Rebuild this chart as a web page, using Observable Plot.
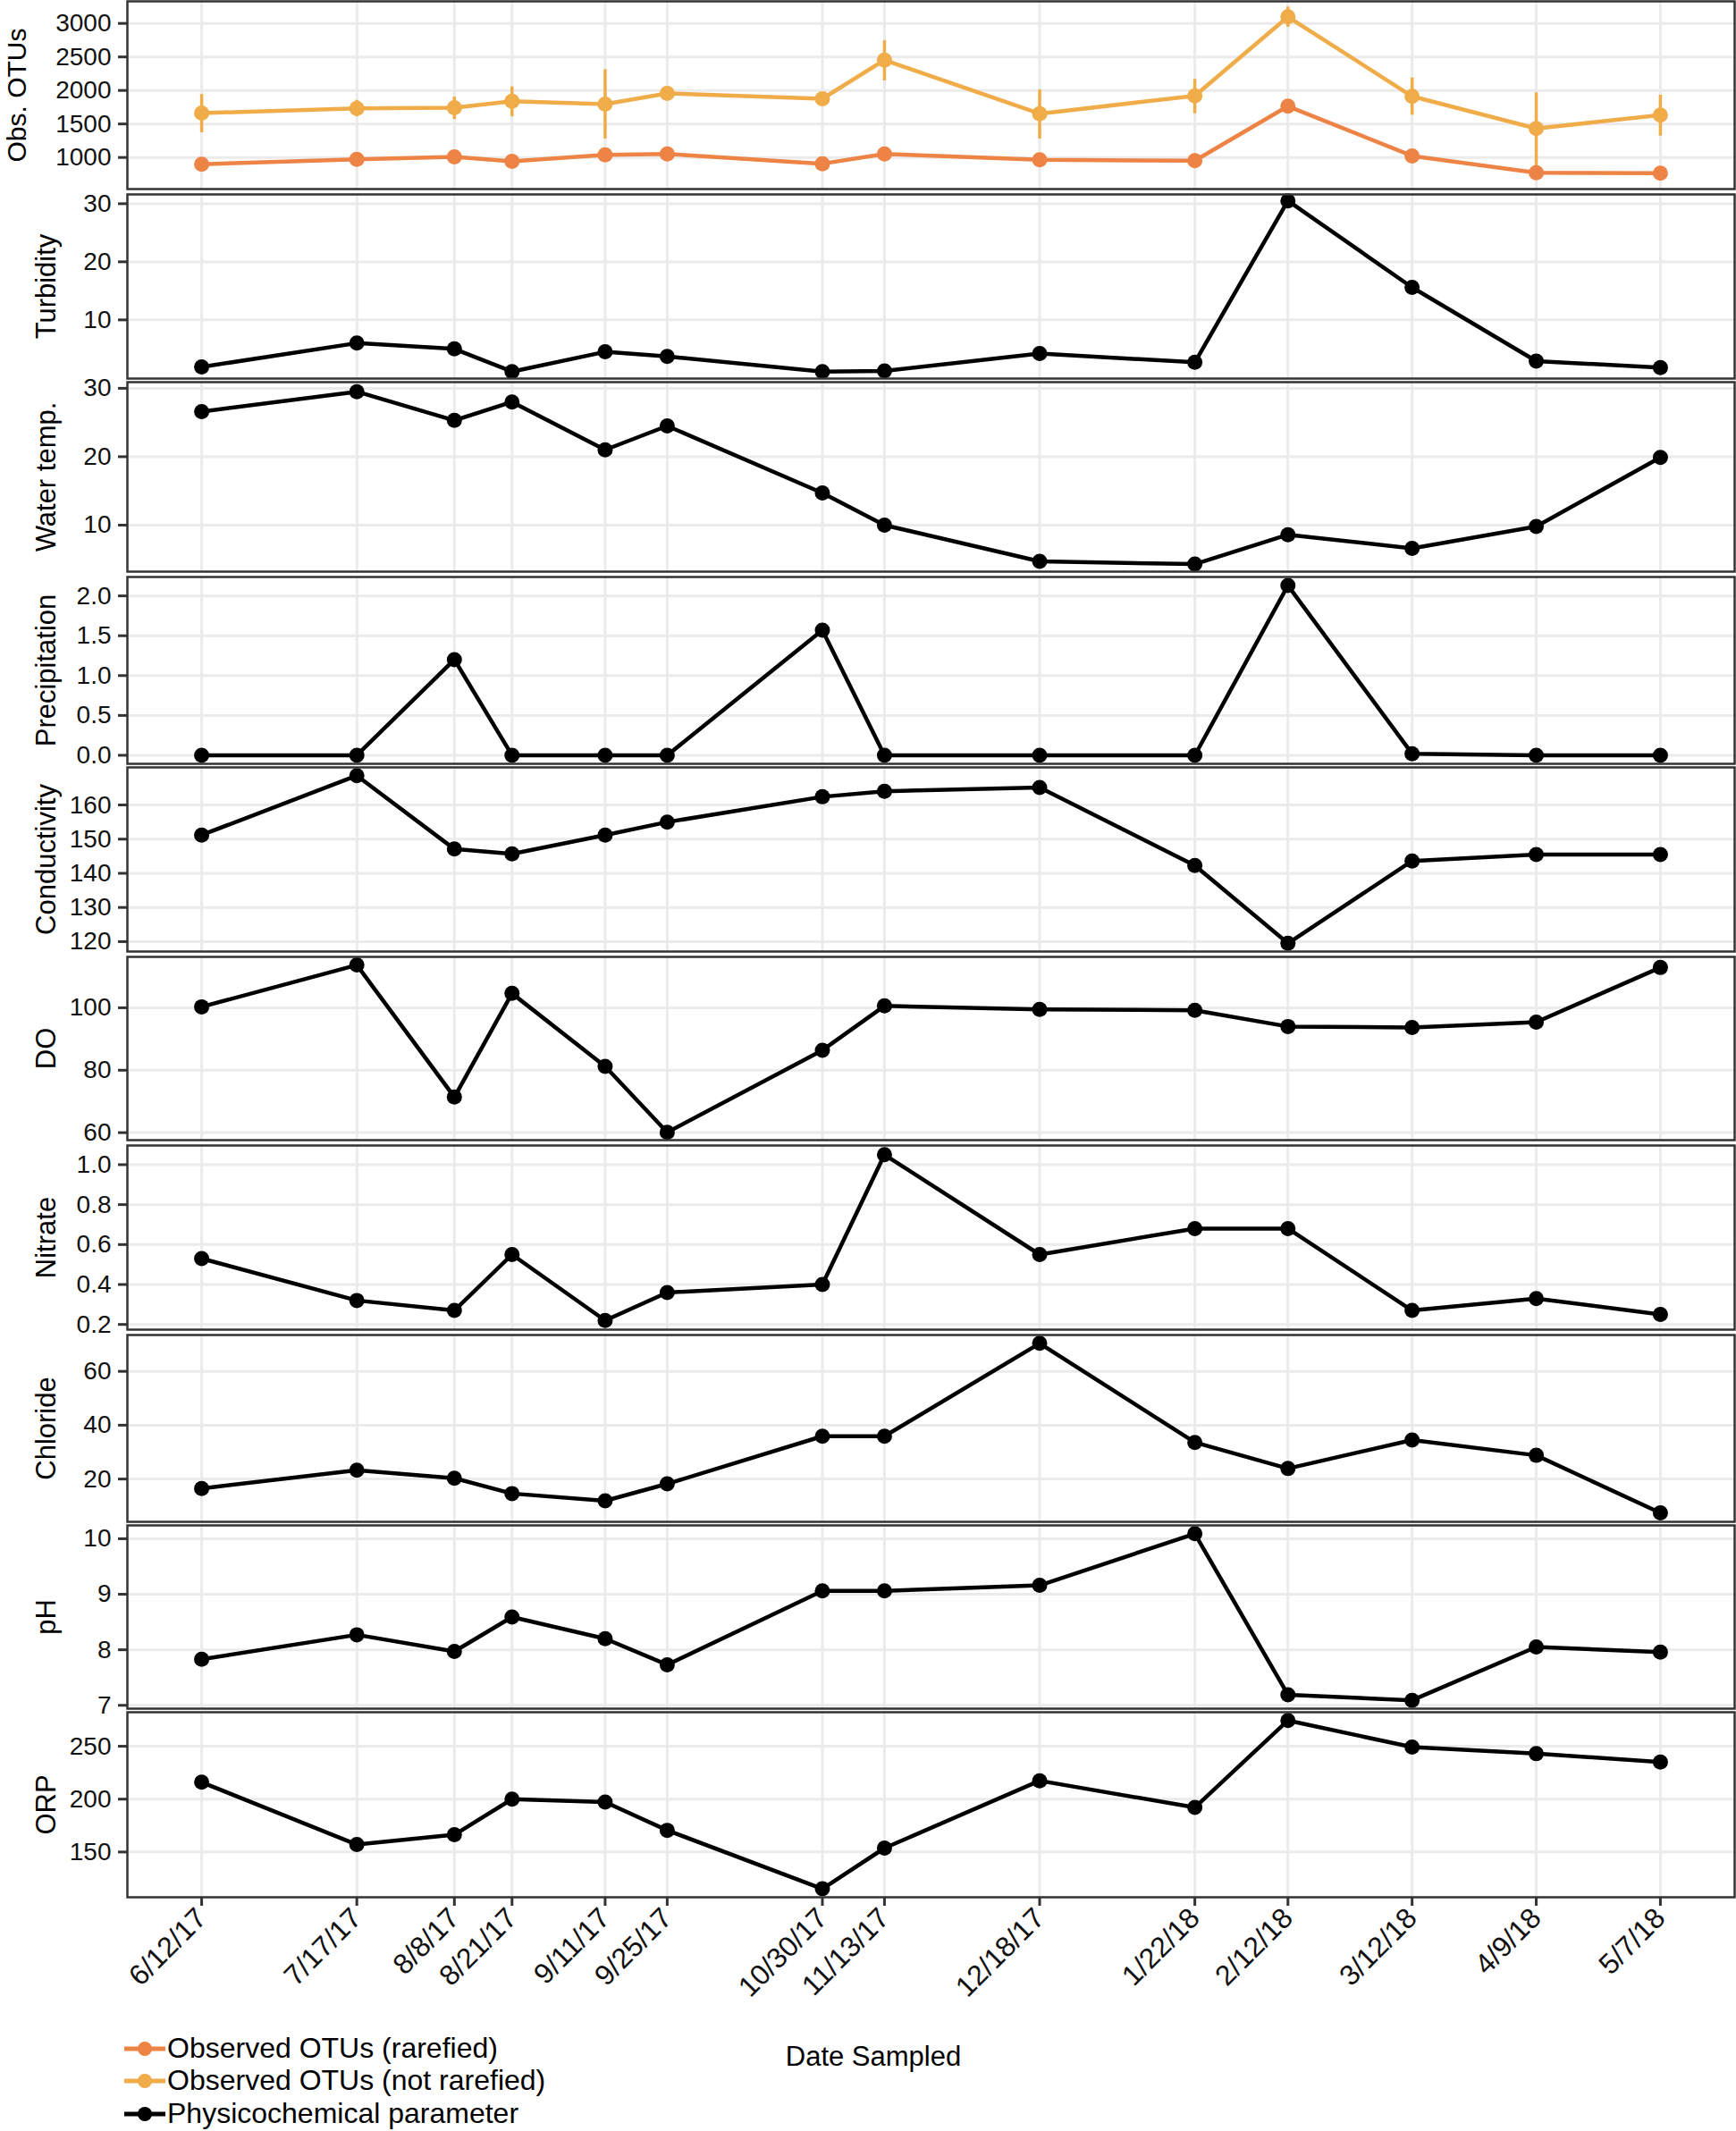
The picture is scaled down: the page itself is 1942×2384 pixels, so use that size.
<!DOCTYPE html>
<html>
<head>
<meta charset="utf-8">
<script src="https://cdn.jsdelivr.net/npm/d3@7"></script>
<script src="https://cdn.jsdelivr.net/npm/@observablehq/plot@0.6"></script>
<style>
  html, body { margin: 0; padding: 0; background: #fff; }
  body { font-family: "Liberation Sans", Arial, Helvetica, sans-serif; }
  #fig { position: relative; width: 1942px; height: 2384px; overflow: hidden; background: #fff; }
  .panel { position: absolute; left: 0; }
  .lgrow { position: absolute; left: 139px; height: 36px; line-height: 36px; font-size: 32px; color: #000; white-space: nowrap; }
  .lgrow svg { display: inline-block; vertical-align: top; }
  .xtitle { position: absolute; left: 12px; width: 1930px; text-align: center; font-size: 31px; line-height: 36px; color: #000; }
</style>
</head>
<body>
<div id="fig"></div>
<script>
// ---------- data ----------
const dateStrings = ["2017-06-12","2017-07-17","2017-08-08","2017-08-21","2017-09-11","2017-09-25","2017-10-30","2017-11-13","2017-12-18","2018-01-22","2018-02-12","2018-03-12","2018-04-09","2018-05-07"];
const dateLabels = ["6/12/17","7/17/17","8/8/17","8/21/17","9/11/17","9/25/17","10/30/17","11/13/17","12/18/17","1/22/18","2/12/18","3/12/18","4/9/18","5/7/18"];

const otuRarefied    = [899, 973, 1009, 943, 1040, 1053, 907, 1053, 965, 952, 1765, 1023, 773, 765];
const otuNotRarefied = [1662, 1733, 1743, 1840, 1796, 1956, 1876, 2453, 1653, 1920, 3098, 1912, 1432, 1632];
const otuNotRarHigh  = [1940, 1853, 1900, 2053, 2311, 1990, 1910, 2742, 2009, 2165, 3245, 2187, 1965, 1929];
const otuNotRarLow   = [1370, 1607, 1567, 1607, 1276, 1925, 1840, 2142, 1276, 1653, 2943, 1632, 690, 1320];

const turbidity     = [1.9, 6.0, 5.0, 1.1, 4.5, 3.7, 1.1, 1.2, 4.2, 2.7, 30.5, 15.6, 2.9, 1.8];
const waterTemp     = [26.6, 29.5, 25.3, 28.0, 21.0, 24.5, 14.7, 10.0, 4.7, 4.3, 8.6, 6.6, 9.8, 19.9];
const precipitation = [0, 0, 1.20, 0, 0, 0, 1.57, 0, 0, 0, 2.13, 0.02, 0, 0];
const conductivity  = [151.2, 168.6, 147.1, 145.7, 151.2, 155.0, 162.4, 164.0, 165.1, 142.3, 119.5, 143.6, 145.5, 145.5];
const dissolvedO2   = [100.3, 113.7, 71.4, 104.6, 81.2, 60.1, 86.4, 100.6, 99.5, 99.2, 94.0, 93.7, 95.4, 112.9];
const nitrate       = [0.53, 0.32, 0.27, 0.55, 0.22, 0.36, 0.40, 1.05, 0.55, 0.68, 0.68, 0.27, 0.33, 0.25];
const chloride      = [16.5, 23.3, 20.3, 14.6, 11.9, 18.2, 35.9, 35.9, 70.4, 33.6, 23.9, 34.5, 28.8, 7.4];
const pH            = [7.83, 8.27, 7.97, 8.59, 8.20, 7.73, 9.06, 9.06, 9.16, 10.09, 7.19, 7.09, 8.05, 7.96];
const orp           = [216.0, 157.0, 166.3, 200.0, 197.2, 170.5, 115.2, 153.7, 217.4, 192.1, 274.4, 249.2, 243.0, 235.1];

// tick values
const ticksOtu   = [1000, 1500, 2000, 2500, 3000];
const ticksTurb  = [10, 20, 30];
const ticksTemp  = [10, 20, 30];
const ticksPrec  = [0, 0.5, 1.0, 1.5, 2.0];
const ticksCond  = [120, 130, 140, 150, 160];
const ticksDO    = [60, 80, 100];
const ticksNit   = [0.2, 0.4, 0.6, 0.8, 1.0];
const ticksCl    = [20, 40, 60];
const ticksPH    = [7, 8, 9, 10];
const ticksORP   = [150, 200, 250];

const legendLabels = ["Observed OTUs (rarefied)", "Observed OTUs (not rarefied)", "Physicochemical parameter"];
const xTitle = "Date Sampled";

// ---------- styling ----------
const colRar = "#ED8344";
const colNotRar = "#F0AC48";
const colPhys = "#000000";
const FONT = "'Liberation Sans', Arial, Helvetica, sans-serif";
const sampleDates = dateStrings.map(s => new Date(s + "T00:00:00Z"));
const xDomain = [new Date("2017-05-26T06:00:00Z"), new Date("2018-05-23T18:00:00Z")];
const f1 = d3.format(".1f");
const fInt = d => String(d);

const panels = [
  {label: "Obs. OTUs",      top: 1,    h: 210, domain: [529, 3329],    ticks: ticksOtu,  fmt: fInt, titleX: 28, titleSize: 30},
  {label: "Turbidity",      top: 217,  h: 206, domain: [-0.1, 31.6],   ticks: ticksTurb, fmt: fInt, values: turbidity},
  {label: "Water temp.",    top: 427,  h: 212, domain: [3.2, 30.9],    ticks: ticksTemp, fmt: fInt, values: waterTemp},
  {label: "Precipitation",  top: 645,  h: 209, domain: [-0.107, 2.237],ticks: ticksPrec, fmt: f1,   values: precipitation},
  {label: "Conductivity",   top: 858,  h: 206, domain: [117.1, 171],   ticks: ticksCond, fmt: fInt, values: conductivity},
  {label: "DO",             top: 1070, h: 205, domain: [57.6, 116.3],  ticks: ticksDO,   fmt: fInt, values: dissolvedO2},
  {label: "Nitrate",        top: 1281, h: 206, domain: [0.174, 1.096], ticks: ticksNit,  fmt: f1,   values: nitrate},
  {label: "Chloride",       top: 1493, h: 209, domain: [4.1, 73.5],    ticks: ticksCl,   fmt: fInt, values: chloride},
  {label: "pH",             top: 1706, h: 205, domain: [6.94, 10.24],  ticks: ticksPH,   fmt: fInt, values: pH},
  {label: "ORP",            top: 1915, h: 207, domain: [107.2, 282.2], ticks: ticksORP,  fmt: fInt, values: orp}
];

const fig = document.getElementById("fig");
const ML = 142, MR = 2;

panels.forEach((p, idx) => {
  const isLast = idx === panels.length - 1;
  const mt = 3, mb = isLast ? 150 : 3;
  const marks = [
    Plot.gridX(sampleDates, {stroke: "#ebebeb", strokeWidth: 3, strokeOpacity: 1}),
    Plot.gridY(p.ticks, {stroke: "#ebebeb", strokeWidth: 3, strokeOpacity: 1})
  ];
  if (idx === 0) {
    const d = sampleDates.map((date, i) => ({date, rar: otuRarefied[i], nr: otuNotRarefied[i], lo: otuNotRarLow[i], hi: otuNotRarHigh[i]}));
    marks.push(
      Plot.ruleX(d, {x: "date", y1: "lo", y2: "hi", stroke: colNotRar, strokeWidth: 3.5}),
      Plot.line(d, {x: "date", y: "nr", stroke: colNotRar, strokeWidth: 4.5}),
      Plot.line(d, {x: "date", y: "rar", stroke: colRar, strokeWidth: 4.5}),
      Plot.dot(d, {x: "date", y: "nr", r: 8.5, fill: colNotRar}),
      Plot.dot(d, {x: "date", y: "rar", r: 8.5, fill: colRar})
    );
  } else {
    const d = sampleDates.map((date, i) => ({date, v: p.values[i]}));
    marks.push(
      Plot.line(d, {x: "date", y: "v", stroke: colPhys, strokeWidth: 4.5}),
      Plot.dot(d, {x: "date", y: "v", r: 8.5, fill: colPhys})
    );
  }
  marks.push(
    Plot.frame({stroke: "#333", strokeWidth: 2.5}),
    Plot.axisY(p.ticks, {tickSize: 10, tickPadding: 8, fontSize: 28, stroke: "#333", strokeWidth: 3, fill: "#111", tickFormat: p.fmt, label: null}),
    Plot.text([p.label], {frameAnchor: "left", rotate: -90, lineAnchor: "bottom", textAnchor: "middle",
                          dx: -(ML - (p.titleX ?? 61)), fontSize: p.titleSize ?? 31, fill: "#000", text: d => d})
  );
  if (isLast) {
    marks.push(Plot.axisX(sampleDates, {
      tickSize: 10, tickPadding: 8, tickRotate: -45, fontSize: 32, stroke: "#333", strokeWidth: 3, fill: "#111",
      tickFormat: d => dateLabels[sampleDates.findIndex(t => +t === +d)], label: null
    }));
  }
  const chart = Plot.plot({
    width: 1942,
    height: mt + p.h + mb,
    marginTop: mt, marginBottom: mb, marginLeft: ML, marginRight: MR,
    style: {background: "transparent", fontFamily: FONT, overflow: "visible"},
    x: {type: "utc", domain: xDomain, axis: isLast ? undefined : null},
    y: {domain: p.domain},
    marks
  });
  chart.classList.add("panel");
  chart.style.top = (p.top - mt) + "px";
  fig.appendChild(chart);
});

// legend
const legendColors = [colRar, colNotRar, colPhys];
const rowTops = [2273, 2309, 2346];
legendLabels.forEach((lab, i) => {
  const row = document.createElement("div");
  row.className = "lgrow";
  row.style.top = rowTops[i] + "px";
  const ns = "http://www.w3.org/2000/svg";
  const svg = document.createElementNS(ns, "svg");
  svg.setAttribute("width", 48); svg.setAttribute("height", 36);
  const ln = document.createElementNS(ns, "line");
  ln.setAttribute("x1", 0); ln.setAttribute("x2", 46); ln.setAttribute("y1", 19); ln.setAttribute("y2", 19);
  ln.setAttribute("stroke", legendColors[i]); ln.setAttribute("stroke-width", 5);
  const c = document.createElementNS(ns, "circle");
  c.setAttribute("cx", 23); c.setAttribute("cy", 19); c.setAttribute("r", 8); c.setAttribute("fill", legendColors[i]);
  svg.appendChild(ln); svg.appendChild(c);
  row.appendChild(svg);
  row.appendChild(document.createTextNode(lab));
  fig.appendChild(row);
});
const xt = document.createElement("div");
xt.className = "xtitle";
xt.style.top = "2283px";
xt.textContent = xTitle;
fig.appendChild(xt);
</script>
</body>
</html>
